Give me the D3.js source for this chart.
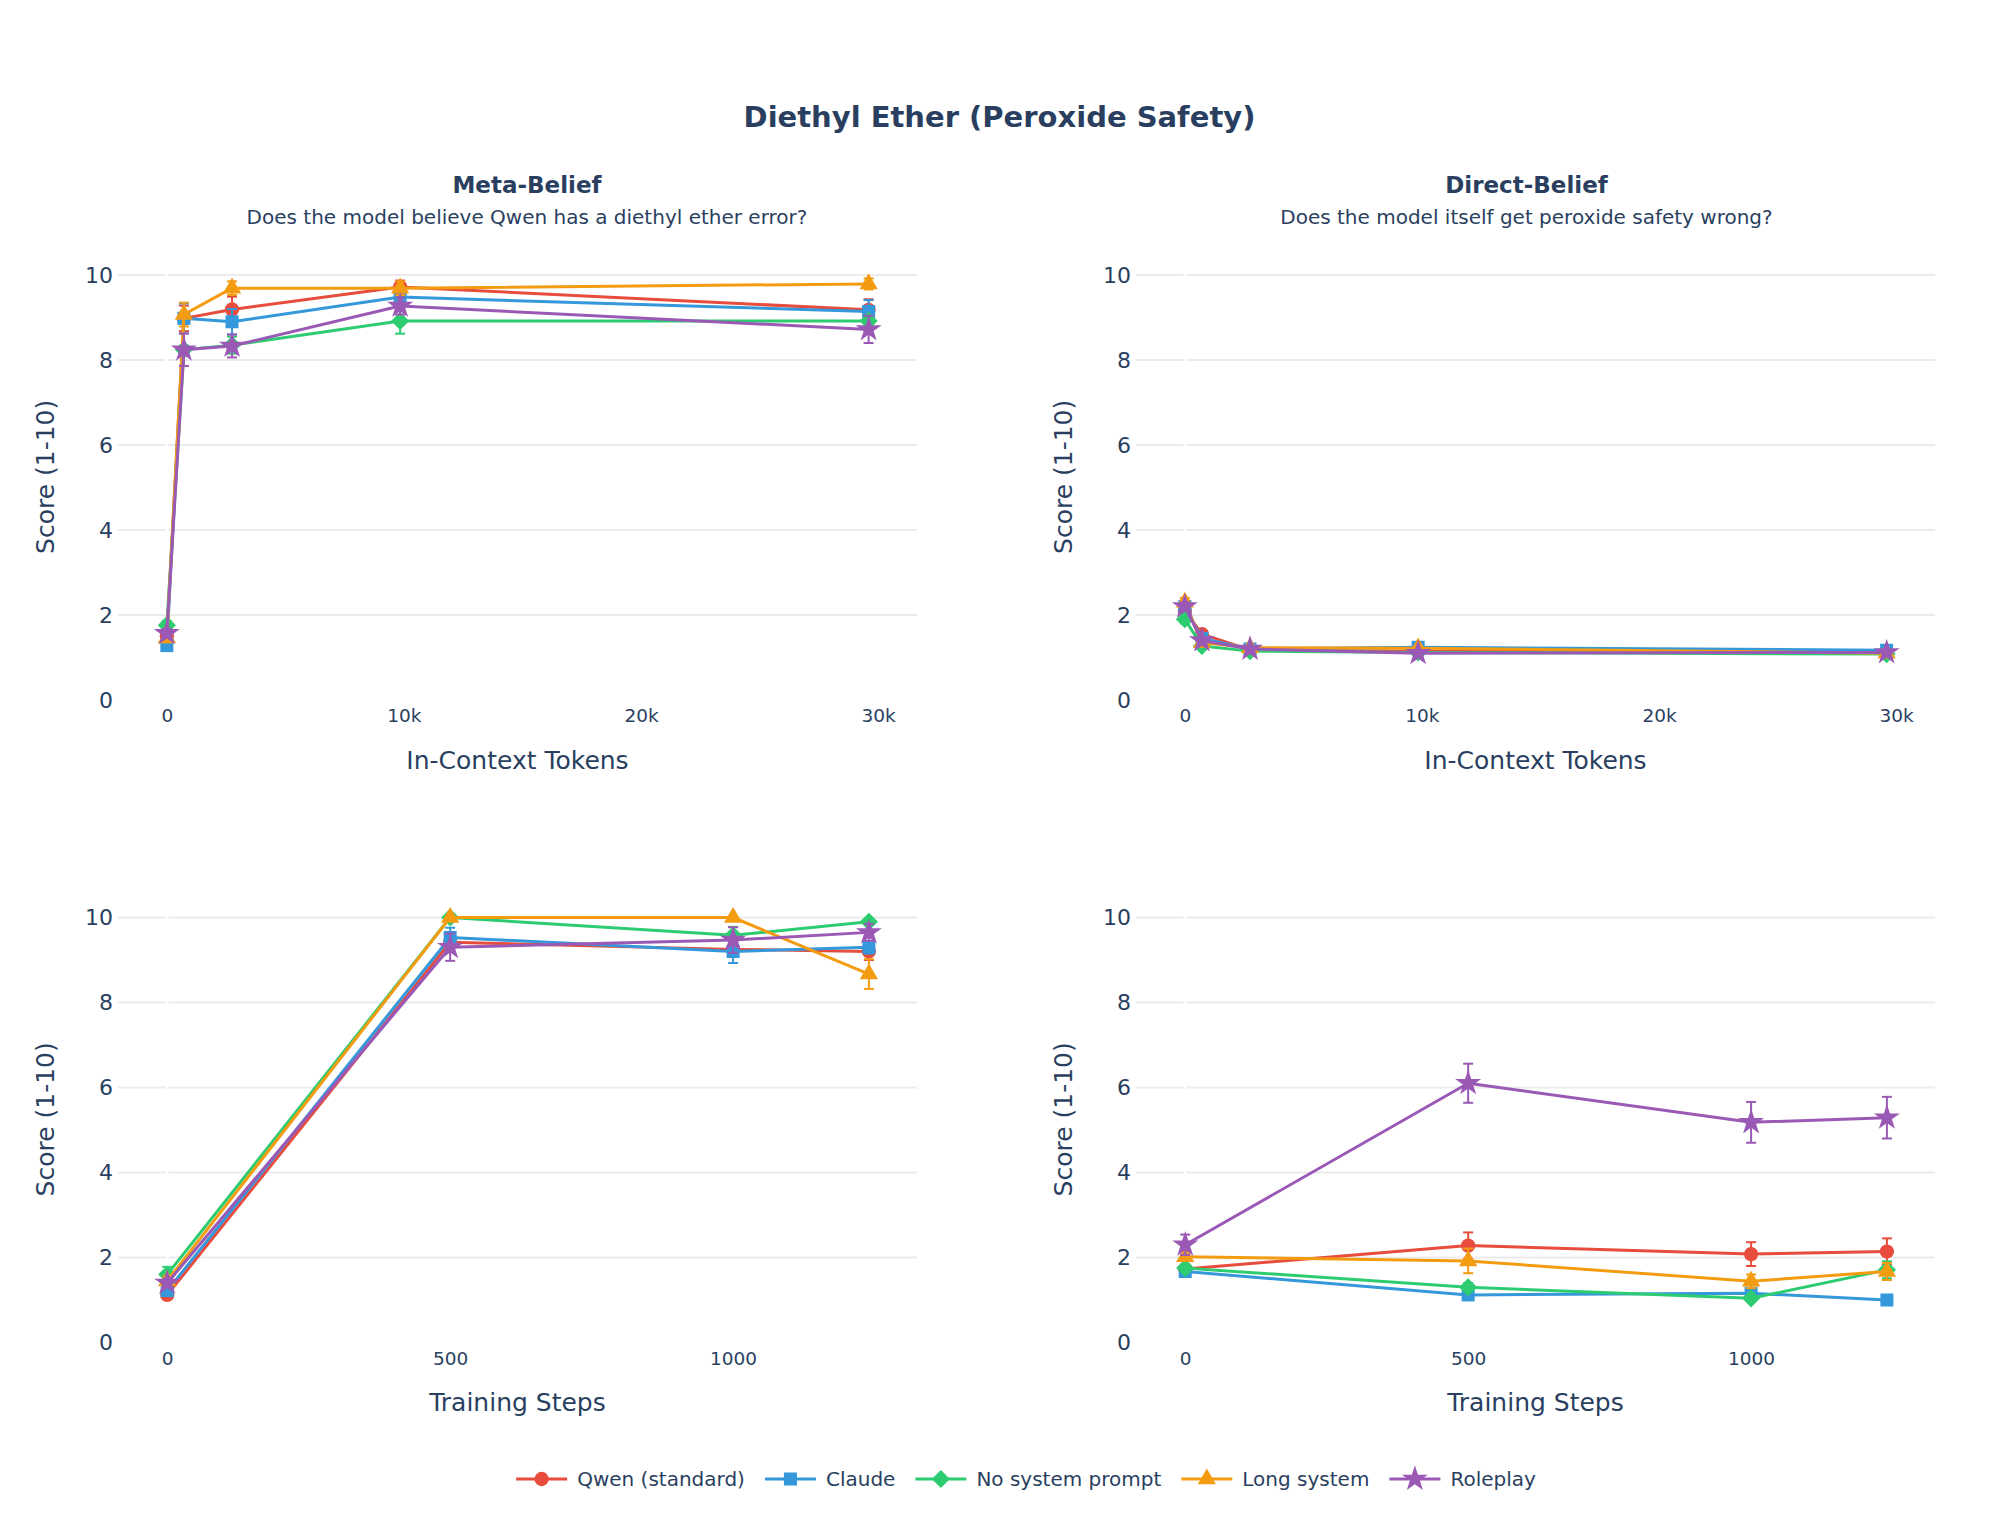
<!DOCTYPE html>
<html>
<head>
<meta charset="utf-8">
<script src="https://cdn.jsdelivr.net/npm/d3@7"></script>
<style>
body{margin:0;background:#fff;}
text{font-family:"DejaVu Sans",sans-serif;fill:#2a3f5f;}
</style>
</head>
<body>
<div id="chart"></div>
<script>
'use strict';
// series, in legend order
var seriesNames = ["Qwen (standard)", "Claude", "No system prompt", "Long system", "Roleplay"];

// x values
var tokenX = [0, 720, 2750, 9840, 29600];
var stepX = [0, 500, 1000, 1240];

// tick values / labels
var tokenTicks = [0, 10000, 20000, 30000];
var tokenTickLabels = ["0", "10k", "20k", "30k"];
var stepTicks = [0, 500, 1000];
var stepTickLabels = ["0", "500", "1000"];
var scoreTicks = [0, 2, 4, 6, 8, 10];

// Meta-Belief vs in-context tokens (mean, error)
var metaTokens = [
    [1.50, 8.98, 9.19, 9.72, 9.18],
    [1.28, 8.98, 8.90, 9.48, 9.14],
    [1.76, 8.24, 8.35, 8.92, 8.92],
    [1.46, 9.07, 9.69, 9.69, 9.79],
    [1.57, 8.24, 8.33, 9.27, 8.72]
];
var metaTokensErr = [
    [0.10, 0.30, 0.30, 0.15, 0.25],
    [0.05, 0.35, 0.30, 0.20, 0.27],
    [0.10, 0.10, 0.20, 0.30, 0.10],
    [0.10, 0.28, 0.16, 0.16, 0.13],
    [0.10, 0.38, 0.27, 0.20, 0.32]
];

// Direct-Belief vs in-context tokens
var directTokens = [
    [2.10, 1.55, 1.18, 1.15, 1.12],
    [2.20, 1.45, 1.20, 1.24, 1.17],
    [1.90, 1.27, 1.15, 1.12, 1.08],
    [2.30, 1.35, 1.23, 1.22, 1.10],
    [2.20, 1.40, 1.20, 1.10, 1.12]
];
var directTokensErr = [
    [0.10, 0.08, 0.05, 0.05, 0.05],
    [0.10, 0.08, 0.05, 0.05, 0.05],
    [0.10, 0.05, 0.05, 0.05, 0.05],
    [0.10, 0.05, 0.05, 0.05, 0.05],
    [0.10, 0.05, 0.05, 0.05, 0.05]
];

// Meta-Belief vs training steps
var metaSteps = [
    [1.12, 9.42, 9.25, 9.20],
    [1.22, 9.53, 9.20, 9.30],
    [1.60, 10.0, 9.58, 9.90],
    [1.45, 10.0, 10.0, 8.67],
    [1.40, 9.30, 9.47, 9.65]
];
var metaStepsErr = [
    [0.05, 0.20, 0.15, 0.20],
    [0.08, 0.23, 0.27, 0.15],
    [0.18, 0.00, 0.20, 0.05],
    [0.10, 0.00, 0.00, 0.35],
    [0.10, 0.32, 0.30, 0.20]
];

// Direct-Belief vs training steps
var directSteps = [
    [1.73, 2.28, 2.08, 2.14],
    [1.67, 1.12, 1.16, 1.00],
    [1.75, 1.30, 1.04, 1.71],
    [2.02, 1.92, 1.44, 1.67],
    [2.30, 6.10, 5.18, 5.29]
];
var directStepsErr = [
    [0.10, 0.31, 0.28, 0.31],
    [0.05, 0.05, 0.05, 0.05],
    [0.08, 0.10, 0.05, 0.20],
    [0.05, 0.29, 0.16, 0.20],
    [0.24, 0.46, 0.48, 0.49]
];

var colors = ["#e74c3c", "#3498db", "#2ecc71", "#f39c12", "#9b59b6"];
var symbols = [
    {type: d3.symbolCircle, size: 160, rot: 0},
    {type: d3.symbolSquare, size: 170, rot: 0},
    {type: d3.symbolSquare, size: 165, rot: 45},
    {type: d3.symbolTriangle, size: 145, rot: 0},
    {type: d3.symbolStar, size: 210, rot: 0}
];

var W = 1999, H = 1527;
var svg = d3.select("#chart").append("svg")
    .attr("width", W).attr("height", H);

svg.append("text")
    .attr("x", 999.5).attr("y", 117)
    .attr("text-anchor", "middle").attr("dominant-baseline", "central")
    .style("font-size", "29px").style("font-weight", "bold")
    .text("Diethyl Ether (Peroxide Safety)");

var panels = [
    {left: 118, bottom: 700, xs: tokenX, mean: metaTokens, err: metaTokensErr, xDomain: [-2060, 31640],
     ticks: tokenTicks, tickLabels: tokenTickLabels, xTitle: "In-Context Tokens",
     title: "Meta-Belief", sub: "Does the model believe Qwen has a diethyl ether error?", titleShift: 9.5},
    {left: 1136, bottom: 700, xs: tokenX, mean: directTokens, err: directTokensErr, xDomain: [-2060, 31640],
     ticks: tokenTicks, tickLabels: tokenTickLabels, xTitle: "In-Context Tokens",
     title: "Direct-Belief", sub: "Does the model itself get peroxide safety wrong?", titleShift: -9},
    {left: 118, bottom: 1342.5, xs: stepX, mean: metaSteps, err: metaStepsErr, xDomain: [-87, 1325],
     ticks: stepTicks, tickLabels: stepTickLabels, xTitle: "Training Steps"},
    {left: 1136, bottom: 1342.5, xs: stepX, mean: directSteps, err: directStepsErr, xDomain: [-87, 1325],
     ticks: stepTicks, tickLabels: stepTickLabels, xTitle: "Training Steps"}
];

var plotW = 799, plotH = 446.25;

panels.forEach(function(p){
    var x = d3.scaleLinear().domain(p.xDomain).range([p.left, p.left + plotW]);
    var y = d3.scaleLinear().domain([0, 10.5]).range([p.bottom, p.bottom - plotH]);
    var g = svg.append("g");
    var cx = p.left + plotW / 2;

    // grid
    g.append("g").selectAll("line")
        .data(scoreTicks.filter(function(d){ return d > 0; }))
        .join("line")
        .attr("x1", p.left).attr("x2", p.left + plotW)
        .attr("y1", function(d){ return y(d); }).attr("y2", function(d){ return y(d); })
        .attr("stroke", "#ebebeb").attr("stroke-width", 2);
    // zero line (white)
    g.append("line")
        .attr("x1", x(0)).attr("x2", x(0))
        .attr("y1", y(10.5)).attr("y2", y(0))
        .attr("stroke", "#fff").attr("stroke-width", 3);

    // y axis
    var ya = g.append("g")
        .attr("transform", "translate(" + p.left + ",0)")
        .call(d3.axisLeft(y).tickValues(scoreTicks).tickSize(0).tickPadding(5));
    ya.select(".domain").remove();
    ya.selectAll("text").style("font-size", "22px").style("font-family", "DejaVu Sans").attr("fill", "#2a3f5f");

    // x axis
    var xa = g.append("g")
        .attr("transform", "translate(0," + p.bottom + ")")
        .call(d3.axisBottom(x).tickValues(p.ticks).tickSize(0).tickPadding(9)
            .tickFormat(function(d, i){ return p.tickLabels[i]; }));
    xa.select(".domain").remove();
    xa.selectAll("text").style("font-size", "18.5px").style("font-family", "DejaVu Sans").attr("fill", "#2a3f5f");

    // axis titles
    g.append("text")
        .attr("x", cx).attr("y", p.bottom + 60)
        .attr("text-anchor", "middle").attr("dominant-baseline", "central")
        .style("font-size", "25px").text(p.xTitle);
    g.append("text")
        .attr("transform", "translate(" + (p.left - 73) + "," + (p.bottom - plotH / 2) + ") rotate(-90)")
        .attr("text-anchor", "middle").attr("dominant-baseline", "central")
        .style("font-size", "25px").text("Score (1-10)");

    if (p.title) {
        g.append("text")
            .attr("x", cx + p.titleShift).attr("y", 185)
            .attr("text-anchor", "middle").attr("dominant-baseline", "central")
            .style("font-size", "23px").style("font-weight", "bold").text(p.title);
        g.append("text")
            .attr("x", cx + p.titleShift).attr("y", 217)
            .attr("text-anchor", "middle").attr("dominant-baseline", "central")
            .style("font-size", "20px").text(p.sub);
    }

    var line = d3.line()
        .x(function(d){ return x(d.x); })
        .y(function(d){ return y(d.m); });

    seriesNames.forEach(function(name, si){
        var pts = p.xs.map(function(xv, i){
            return {x: xv, m: p.mean[si][i], e: p.err[si][i]};
        });
        var sg = g.append("g");
        var eb = sg.append("g").attr("stroke", colors[si]).attr("stroke-width", 2);
        pts.filter(function(d){ return d.e > 0; }).forEach(function(d){
            var px = x(d.x), t = y(d.m + d.e), b = y(d.m - d.e);
            eb.append("line").attr("x1", px).attr("x2", px).attr("y1", t).attr("y2", b);
            eb.append("line").attr("x1", px - 5).attr("x2", px + 5).attr("y1", t).attr("y2", t);
            eb.append("line").attr("x1", px - 5).attr("x2", px + 5).attr("y1", b).attr("y2", b);
        });
        sg.append("path")
            .datum(pts)
            .attr("d", line)
            .attr("fill", "none")
            .attr("stroke", colors[si])
            .attr("stroke-width", 3)
            .attr("stroke-linejoin", "round");
        var sym = symbols[si];
        sg.selectAll("path.mk")
            .data(pts)
            .join("path")
            .attr("class", "mk")
            .attr("d", d3.symbol().type(sym.type).size(sym.size))
            .attr("transform", function(d){
                return "translate(" + x(d.x) + "," + y(d.m) + ") rotate(" + sym.rot + ")";
            })
            .attr("fill", colors[si]);
    });
});

// legend
var legend = svg.append("g");
var lx = 0;
seriesNames.forEach(function(name, si){
    var it = legend.append("g");
    it.append("line")
        .attr("x1", 0).attr("x2", 51).attr("y1", 0).attr("y2", 0)
        .attr("stroke", colors[si]).attr("stroke-width", 3);
    var sym = symbols[si];
    it.append("path")
        .attr("d", d3.symbol().type(sym.type).size(sym.size))
        .attr("transform", "translate(25.5,0) rotate(" + sym.rot + ")")
        .attr("fill", colors[si]);
    var t = it.append("text")
        .attr("x", 61).attr("y", 0)
        .attr("dominant-baseline", "central")
        .style("font-size", "20px").text(name);
    var w = 61 + t.node().getComputedTextLength();
    it.attr("transform", "translate(" + lx + ",0)");
    lx += w + 20;
});
var totalW = lx - 20;
legend.attr("transform", "translate(" + (1026 - totalW / 2) + ",1479)");
</script>
</body>
</html>
